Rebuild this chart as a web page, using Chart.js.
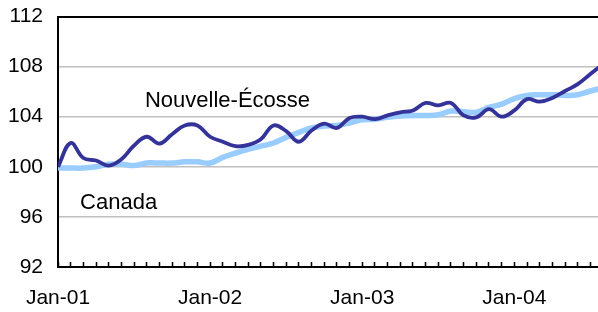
<!DOCTYPE html>
<html>
<head>
<meta charset="utf-8">
<script src="https://cdn.jsdelivr.net/npm/chart.js@4/dist/chart.umd.min.js"></script>
<style>
  body { margin: 0; background: #fff; }
  canvas { display: block; }
</style>
</head>
<body>
<canvas id="chart" width="598" height="312"></canvas>
<script>
// months, Jan-01 .. Aug-04
var months = ['Jan-01','Feb-01','Mar-01','Apr-01','May-01','Jun-01','Jul-01','Aug-01','Sep-01','Oct-01','Nov-01','Dec-01',
              'Jan-02','Feb-02','Mar-02','Apr-02','May-02','Jun-02','Jul-02','Aug-02','Sep-02','Oct-02','Nov-02','Dec-02',
              'Jan-03','Feb-03','Mar-03','Apr-03','May-03','Jun-03','Jul-03','Aug-03','Sep-03','Oct-03','Nov-03','Dec-03',
              'Jan-04','Feb-04','Mar-04','Apr-04','May-04','Jun-04','Jul-04','Aug-04'];
var tickLabels = ['Jan-01','Jan-02','Jan-03','Jan-04'];

var novaScotia = [100.0, 101.9, 100.7, 100.5, 100.1, 100.6, 101.7, 102.4, 101.85, 102.6, 103.3, 103.3,
                  102.4, 102.0, 101.65, 101.75, 102.2, 103.3, 102.85, 102.0, 102.9, 103.45, 103.1, 103.9,
                  104.0, 103.8, 104.1, 104.35, 104.5, 105.1, 104.9, 105.1, 104.1, 103.95, 104.6, 104.0,
                  104.5, 105.4, 105.2, 105.5, 106.05, 106.6, 107.4, 108.2];
var canada = [99.9, 99.9, 99.9, 100.0, 100.2, 100.2, 100.1, 100.3, 100.3, 100.3, 100.4, 100.4,
              100.3, 100.75, 101.1, 101.4, 101.65, 101.9, 102.35, 102.75, 103.1, 103.25, 103.3, 103.5,
              103.75, 103.8, 103.95, 104.05, 104.1, 104.1, 104.15, 104.45, 104.4, 104.35, 104.75, 105.0,
              105.45, 105.7, 105.75, 105.75, 105.7, 105.75, 106.05, 106.3];

var seriesLabels = [
  { text: 'Nouvelle-Écosse', x: 6.86, y: 105.27 },
  { text: 'Canada', x: 1.74, y: 97.13 }
];

function points(arr) {
  return arr.map((v, i) => ({ x: i, y: v }));
}

const textLabels = {
  id: 'textLabels',
  afterDatasetsDraw(chart) {
    const ctx = chart.ctx;
    const xs = chart.scales.x, ys = chart.scales.y;
    ctx.save();
    ctx.font = '22px "Liberation Sans", Arial, sans-serif';
    ctx.fillStyle = '#000';
    ctx.textAlign = 'left';
    ctx.textBaseline = 'middle';
    seriesLabels.forEach(l => {
      ctx.fillText(l.text, xs.getPixelForValue(l.x), ys.getPixelForValue(l.y));
    });
    ctx.restore();
  }
};

const font = { family: '"Liberation Sans", Arial, sans-serif', size: 21 };

new Chart(document.getElementById('chart'), {
  type: 'line',
  data: {
    datasets: [
      {
        label: 'Nouvelle-Écosse',
        data: points(novaScotia),
        borderColor: '#333399',
        borderWidth: 3.8,
        pointRadius: 0,
        tension: 0.4,
        fill: false
      },
      {
        label: 'Canada',
        data: points(canada),
        borderColor: '#99CCFF',
        borderWidth: 5.5,
        pointRadius: 0,
        tension: 0.4,
        fill: false
      }
    ]
  },
  options: {
    responsive: false,
    animation: false,
    devicePixelRatio: 1,
    layout: { padding: { top: 16.5, right: 0, left: 0, bottom: 0 } },
    plugins: { legend: { display: false }, tooltip: { enabled: false } },
    scales: {
      x: {
        type: 'linear',
        min: 0,
        max: 42.6,
        afterFit: s => {
          s.height = 45;
          s.paddingLeft = 0;
          s.paddingRight = 0;
        },
        border: { color: '#000', width: 2 },
        grid: {
          drawOnChartArea: false,
          drawTicks: true,
          tickLength: -5,
          tickColor: '#000',
          tickWidth: 1.5
        },
        ticks: {
          stepSize: 1,
          autoSkip: false,
          includeBounds: false,
          maxRotation: 0,
          padding: 24,
          color: '#000',
          font: font,
          callback: v => {
            const m = months[v];
            return tickLabels.indexOf(m) >= 0 ? m : '';
          }
        }
      },
      y: {
        min: 92,
        max: 112,
        afterFit: s => {
          s.width = 58;
          s.paddingTop = 0;
          s.paddingBottom = 0;
        },
        border: { color: '#000', width: 2 },
        grid: {
          drawTicks: false,
          color: c => c.tick.value === 112 ? '#000' : (c.tick.value === 92 ? 'rgba(0,0,0,0)' : '#c0c0c0'),
          lineWidth: c => c.tick.value === 112 ? 2 : 1.5
        },
        ticks: {
          stepSize: 4,
          padding: 15,
          color: '#000',
          font: font
        }
      }
    }
  },
  plugins: [textLabels]
});
</script>
</body>
</html>
